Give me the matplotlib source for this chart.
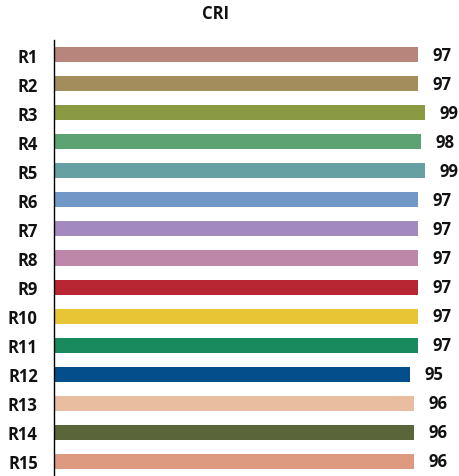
import matplotlib
matplotlib.use("Agg")
import matplotlib.pyplot as plt

categories = ["R1", "R2", "R3", "R4", "R5", "R6", "R7", "R8", "R9", "R10",
              "R11", "R12", "R13", "R14", "R15"]
values = [97, 97, 99, 98, 99, 97, 97, 97, 97, 97, 97, 95, 96, 96, 96]
colors = ["#B8857C", "#A38D5C", "#8A9A42", "#5BA372", "#66A0A3", "#7298C8",
          "#A28ABF", "#BD87AA", "#B82633", "#E8C534", "#188A5E", "#044E8C",
          "#E8BDA0", "#5A6639", "#DE9A80"]
title = "CRI"

plt.rcParams['font.family'] = ['Open Sans', 'DejaVu Sans']

W, H = 460, 477
fig = plt.figure(figsize=(W / 100, H / 100), dpi=100)
ax = fig.add_axes([54.5 / W, 0.0, 393 / W, (477 - 41) / H])

y = list(range(len(categories)))
ax.barh(y, values, height=0.52, color=colors)
ax.set_ylim(len(categories) - 0.5, -0.5)
ax.set_xlim(0, 105)

for yi, v in zip(y, values):
    ax.annotate(str(v), xy=(v, yi), xytext=(10.5, 0), textcoords="offset points",
                ha="left", va="center", fontsize=12, fontweight="bold", color="#111111")

ax.set_yticks(y)
ax.set_yticklabels(categories, fontsize=12, fontweight="bold", color="#111111")
ax.tick_params(axis="y", length=0, pad=12)
ax.set_xticks([])
for s in ["top", "right", "bottom"]:
    ax.spines[s].set_visible(False)
ax.spines["left"].set_linewidth(1.0)
ax.spines["left"].set_color("#000000")

fig.text(216 / W, 1 - 14 / H, title, ha="center", va="center",
         fontsize=12, fontweight="bold", color="#111111")

fig.savefig("out.png", dpi=100)
